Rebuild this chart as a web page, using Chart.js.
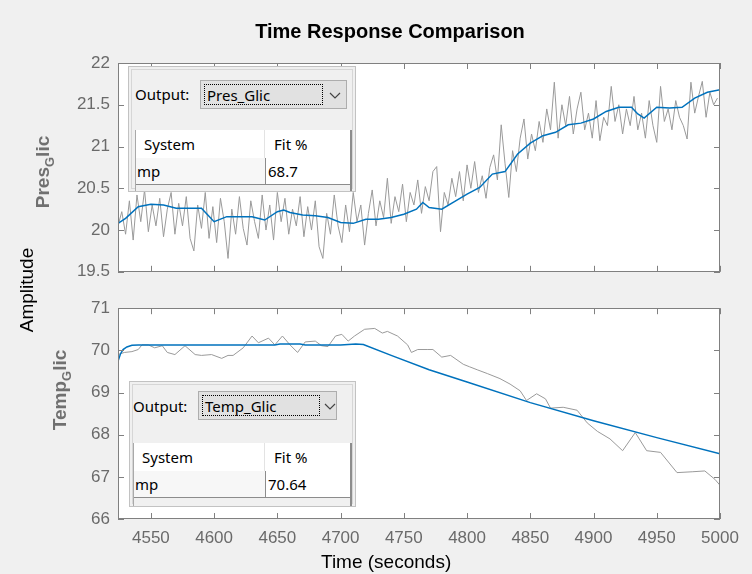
<!DOCTYPE html>
<html>
<head>
<meta charset="utf-8">
<script src="https://cdn.jsdelivr.net/npm/chart.js@4.4.1/dist/chart.umd.min.js"></script>
<style>
  body { margin: 0; background: #f0f0f0; }
  #fig { position: relative; width: 752px; height: 574px; background: #f0f0f0; overflow: hidden;
         font-family: "Liberation Sans", Arial, sans-serif; }
  canvas { position: absolute; left: 0; }
  .txt { position: absolute; white-space: nowrap; line-height: 1; }
  .rot { transform: translate(-50%, -50%) rotate(-90deg); }
  .ylab { color: #707070; font-size: 19px; font-weight: bold; }
  .ylab sub { font-size: 13px; vertical-align: -5px; }
  .ui { position: absolute; box-sizing: border-box; font-family: "Noto Sans", sans-serif; font-size: 15px; color: #000; }
  .panel { background: #f0f0f0; border: 1px solid #c2c2c2; box-shadow: inset 0 0 0 2px #f0f0f0, inset 0 0 0 3px #d6d6d6; }
  .drop { background: #e1e1e1; border: 1px solid #adadad; }
  .focus { position: absolute; left: 3px; top: 3px; bottom: 3px; border: 1px dotted #000; padding-left: 2px; line-height: 20px; }
  .chev { position: absolute; top: 11px; }
  .tbl { background: #f0f0f0; border-left: 1px solid #a9a9a9; border-right: 2px solid #8c8c8c; overflow: hidden; }
  .cell { position: absolute; box-sizing: border-box; line-height: 26px; padding-left: 6px; }
</style>
</head>
<body>
<div id="fig">
  <canvas id="top" width="752" height="290" style="top:0"></canvas>
  <canvas id="bot" width="752" height="284" style="top:290px"></canvas>

  <div class="txt" style="left:0;width:780px;top:21px;text-align:center;font-weight:bold;font-size:20px;color:#000">Time Response Comparison</div>
  <div class="txt rot" style="left:26px;top:290px;font-size:19px;color:#000">Amplitude</div>
  <div class="txt rot ylab" style="left:44px;top:172px">Pres<sub>G</sub>lic</div>
  <div class="txt rot ylab" style="left:61px;top:390px">Temp<sub>G</sub>lic</div>
  <div class="txt" style="left:321px;top:552px;font-size:19px;color:#000">Time (seconds)</div>

  <!-- Pres_Glic widget -->
  <div class="ui panel" style="left:128px;top:66px;width:228px;height:126px"></div>
  <div class="ui" style="left:135px;top:84px;line-height:20px">Output:</div>
  <div class="ui drop" style="left:200px;top:80px;width:147px;height:29px">
    <div class="focus" style="width:115px">Pres_Glic</div>
    <svg class="chev" style="left:128px" width="12" height="8"><polyline points="1,1 6,6 11,1" fill="none" stroke="#444" stroke-width="1.2"/></svg>
  </div>
  <div class="ui tbl" style="left:135px;top:130px;width:217px;height:61px">
    <div class="cell" style="left:0;top:0;width:129px;height:28px;background:#fff;border-right:1px solid #e3e3e3;padding-left:8px;line-height:28px">System</div>
    <div class="cell" style="left:129px;top:0;width:88px;height:28px;background:#fff;padding-left:9px;line-height:28px">Fit %</div>
    <div class="cell" style="left:0;top:28px;width:129px;height:27px;background:#f7f7f7;border-bottom:1px solid #8c8c8c;padding-left:1px">mp</div>
    <div class="cell" style="left:129px;top:28px;width:88px;height:27px;background:#fff;border-left:1px solid #8c8c8c;border-bottom:1px solid #8c8c8c;padding-left:2px">68.7</div>
  </div>

  <!-- Temp_Glic widget -->
  <div class="ui panel" style="left:129px;top:381px;width:227px;height:126px"></div>
  <div class="ui" style="left:133px;top:396px;line-height:20px">Output:</div>
  <div class="ui drop" style="left:198px;top:391px;width:139px;height:29px">
    <div class="focus" style="width:114px">Temp_Glic</div>
    <svg class="chev" style="left:125px" width="12" height="8"><polyline points="1,1 6,6 11,1" fill="none" stroke="#444" stroke-width="1.2"/></svg>
  </div>
  <div class="ui tbl" style="left:133px;top:443px;width:219px;height:63px">
    <div class="cell" style="left:0;top:0;width:131px;height:28px;background:#fff;border-right:1px solid #e3e3e3;padding-left:8px;line-height:28px">System</div>
    <div class="cell" style="left:131px;top:0;width:88px;height:28px;background:#fff;padding-left:9px;line-height:28px">Fit %</div>
    <div class="cell" style="left:0;top:28px;width:131px;height:27px;background:#f7f7f7;border-bottom:1px solid #8c8c8c;padding-left:1px">mp</div>
    <div class="cell" style="left:131px;top:28px;width:88px;height:27px;background:#fff;border-left:1px solid #8c8c8c;border-bottom:1px solid #8c8c8c;padding-left:2px">70.64</div>
  </div>
</div>

<script>
// measured Pres_Glic, one sample every 3 s starting at 4524 s
const presMeasStart = 4524;
const presMeasStep = 3;
const presMeas = [
  20.05, 20.22, 19.95, 20.35, 19.88, 20.42, 20.10, 20.48, 19.98, 20.30,
  20.05, 20.38, 19.92, 20.25, 20.45, 19.95, 20.32, 20.05, 20.40, 19.90,
  19.75, 20.30, 20.02, 20.45, 19.90, 20.28, 19.85, 20.38, 20.10, 19.66,
  20.25, 19.95, 20.40, 20.02, 19.82, 20.35, 20.10, 19.90, 20.42, 20.00,
  20.30, 19.88, 20.45, 20.10, 20.38, 19.95, 20.25, 20.05, 20.40, 19.92,
  20.28, 20.00, 20.35, 19.80, 19.66, 20.20, 19.95, 20.42, 20.05, 19.85,
  20.30, 19.98, 20.45, 20.10, 20.30, 19.82, 20.20, 20.48, 20.05, 20.35,
  20.15, 20.62, 20.08, 20.40, 20.22, 20.55, 20.10, 20.45, 20.30, 20.60,
  20.20, 20.52, 20.35, 20.70, 20.76, 19.98, 20.45, 20.30, 20.62, 20.40,
  20.70, 20.35, 20.78, 20.50, 20.82, 20.45, 20.65, 20.38, 20.75, 20.90,
  20.60, 21.26, 20.80, 20.39, 20.95, 20.70, 21.10, 21.33, 20.85, 21.15,
  20.95, 21.30, 21.05, 21.45, 21.20, 21.77, 21.10, 21.50, 21.25, 21.60,
  21.15, 21.45, 21.65, 21.20, 21.40, 21.10, 21.55, 21.07, 21.35, 21.25,
  21.72, 21.30, 21.50, 21.15, 21.45, 21.25, 21.60, 21.20, 21.40, 21.10,
  21.55, 21.25, 21.05, 21.72, 21.30, 21.45, 21.20, 21.55, 21.35, 21.25,
  21.09, 21.77, 21.40, 21.60, 21.78, 21.35, 21.65, 21.50, 21.58
];

// model mp, Pres_Glic
const presModelTime = [4524, 4530, 4540, 4550, 4560, 4570, 4580, 4590, 4595, 4600, 4610, 4620, 4630, 4640,
  4650, 4655, 4660, 4670, 4680, 4690, 4700, 4710, 4720, 4730, 4740, 4750, 4760, 4765, 4770, 4780, 4790,
  4800, 4810, 4820, 4830, 4840, 4850, 4860, 4870, 4880, 4890, 4900, 4910, 4920, 4930, 4935, 4940, 4950,
  4960, 4970, 4980, 4990, 5000];
const presModel = [20.08, 20.14, 20.28, 20.31, 20.30, 20.26, 20.26, 20.26, 20.18, 20.10, 20.16, 20.16, 20.16, 20.12,
  20.22, 20.24, 20.21, 20.18, 20.17, 20.15, 20.09, 20.08, 20.13, 20.13, 20.15, 20.19, 20.25, 20.33, 20.27, 20.25, 20.34,
  20.43, 20.51, 20.67, 20.70, 20.91, 21.04, 21.13, 21.17, 21.26, 21.28, 21.33, 21.42, 21.47, 21.47, 21.39, 21.34, 21.47,
  21.46, 21.47, 21.58, 21.65, 21.68];

// measured Temp_Glic
const tempMeasTime = [4524, 4529, 4535, 4540, 4543, 4548, 4553, 4559, 4563, 4569, 4577, 4585, 4590, 4598, 4606,
  4611, 4615, 4623, 4630, 4635, 4643, 4648, 4654, 4660, 4666, 4672, 4680, 4685, 4690, 4696, 4701, 4706, 4711,
  4719, 4727, 4733, 4737, 4745, 4753, 4756, 4761, 4769, 4773, 4780, 4787, 4797, 4802, 4808, 4816, 4826, 4834,
  4842, 4847, 4855, 4862, 4866, 4876, 4887, 4895, 4903, 4913, 4923, 4933, 4942, 4953, 4966, 4978, 4988, 4996, 5000];
const tempMeas = [69.90, 69.95, 69.97, 70.02, 70.13, 70.13, 70.06, 70.11, 69.95, 69.90, 70.11, 69.90, 69.88, 69.90, 69.81,
  69.88, 69.88, 70.06, 70.34, 70.18, 70.29, 70.13, 70.34, 70.13, 69.95, 70.20, 70.22, 70.11, 70.09, 70.34, 70.38, 70.22, 70.34,
  70.50, 70.52, 70.41, 70.45, 70.34, 70.13, 69.95, 70.02, 70.02, 70.02, 69.84, 69.88, 69.67, 69.61, 69.54, 69.45, 69.33, 69.20,
  69.04, 68.81, 68.97, 68.85, 68.63, 68.65, 68.58, 68.28, 68.08, 67.90, 67.62, 68.05, 67.62, 67.58, 67.10, 67.12, 67.14, 66.94, 66.80];

// model mp, Temp_Glic
const tempModelTime = [4524, 4526, 4528, 4531, 4535, 4540, 4600, 4648, 4652, 4668, 4672, 4700, 4712, 4718,
  4740, 4770, 4800, 4850, 4900, 4950, 5000];
const tempModel = [69.74, 69.92, 70.02, 70.08, 70.12, 70.13, 70.13, 70.13, 70.15, 70.15, 70.13, 70.13, 70.15, 70.14,
  69.88, 69.54, 69.25, 68.76, 68.33, 67.93, 67.55];

const xTicks = [4550, 4600, 4650, 4700, 4750, 4800, 4850, 4900, 4950, 5000];

const measColor = '#9a9a9a';
const modelColor = '#0072BD';
const axisColor = '#808080';
const tickColor = '#6a6a6a';

// white axes background, box and inward ticks like the MATLAB axes
const axesBox = {
  id: 'axesBox',
  beforeDraw(chart) {
    const {ctx, chartArea: a} = chart;
    ctx.save();
    ctx.fillStyle = '#ffffff';
    ctx.fillRect(a.left, a.top, a.right - a.left, a.bottom - a.top);
    ctx.restore();
  },
  afterDraw(chart) {
    const {ctx, chartArea: a, scales} = chart;
    ctx.save();
    ctx.strokeStyle = axisColor;
    ctx.lineWidth = 1;
    ctx.beginPath();
    scales.x.ticks.forEach(t => {
      const px = Math.round(scales.x.getPixelForValue(t.value)) + 0.5;
      ctx.moveTo(px, a.bottom); ctx.lineTo(px, a.bottom - 6);
      ctx.moveTo(px, a.top); ctx.lineTo(px, a.top + 6);
    });
    scales.y.ticks.forEach(t => {
      const py = Math.round(scales.y.getPixelForValue(t.value)) + 0.5;
      ctx.moveTo(a.left, py); ctx.lineTo(a.left + 6, py);
      ctx.moveTo(a.right, py); ctx.lineTo(a.right - 6, py);
    });
    ctx.stroke();
    ctx.strokeRect(Math.round(a.left) + 0.5, Math.round(a.top) + 0.5,
      Math.round(a.right - a.left) - 1, Math.round(a.bottom - a.top) - 1);
    ctx.restore();
  }
};

function makeChart(id, meas, model, yMin, yMax, yStep, showX, pad, xHeight) {
  return new Chart(document.getElementById(id), {
    type: 'line',
    data: {
      datasets: [
        {data: model, borderColor: modelColor, borderWidth: 1.5, pointRadius: 0, tension: 0},
        {data: meas, borderColor: measColor, borderWidth: 1, pointRadius: 0, tension: 0}
      ]
    },
    options: {
      responsive: false,
      animation: false,
      events: [],
      parsing: false,
      layout: {padding: pad},
      plugins: {legend: {display: false}, tooltip: {enabled: false}},
      scales: {
        x: {
          type: 'linear', min: 4524, max: 5000,
          grid: {display: false, drawTicks: false},
          border: {display: false},
          afterBuildTicks: s => { s.ticks = xTicks.map(v => ({value: v})); },
          afterFit: s => { s.height = xHeight; },
          ticks: {display: showX, padding: 9, color: tickColor,
                  font: {family: 'Liberation Sans', size: 17},
                  callback: v => String(v)}
        },
        y: {
          min: yMin, max: yMax,
          grid: {display: false, drawTicks: false},
          border: {display: false},
          afterFit: s => { s.width = 118; },
          ticks: {stepSize: yStep, padding: 8, color: tickColor,
                  font: {family: 'Liberation Sans', size: 17},
                  callback: v => String(Math.round(v * 10) / 10)}
        }
      }
    },
    plugins: [axesBox]
  });
}

const presData = presMeas.map((v, i) => ({x: presMeasStart + i * presMeasStep, y: v}));
const presFit = presModel.map((v, i) => ({x: presModelTime[i], y: v}));
const tempData = tempMeas.map((v, i) => ({x: tempMeasTime[i], y: v}));
const tempFit = tempModel.map((v, i) => ({x: tempModelTime[i], y: v}));

makeChart('top', presData, presFit, 19.5, 22, 0.5, false, {top: 63, right: 32, left: 0, bottom: 0}, 11);
makeChart('bot', tempData, tempFit, 66, 71, 1, true, {top: 10, right: 32, left: 0, bottom: 0}, 55);
</script>
</body>
</html>
